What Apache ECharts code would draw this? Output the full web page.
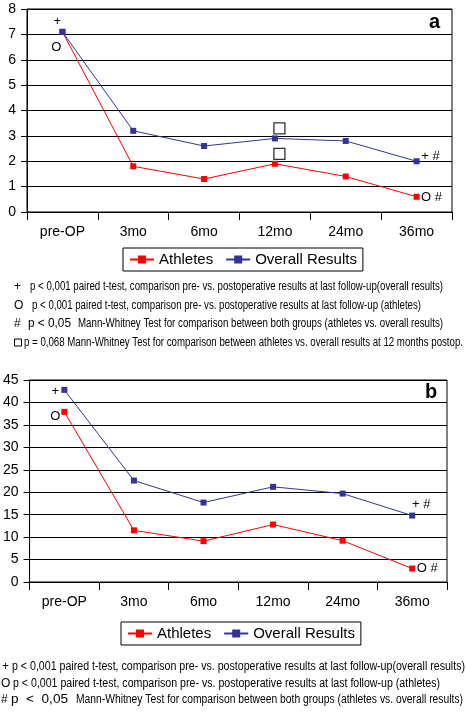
<!DOCTYPE html>
<html><head><meta charset="utf-8">
<script src="https://cdn.jsdelivr.net/npm/echarts@6/dist/echarts.min.js"></script>
<style>html,body{margin:0;padding:0;background:#fff}#c{width:466px;height:714px}</style>
</head><body><div id="c"></div>
<script>
var categories = ['pre-OP','3mo','6mo','12mo','24mo','36mo'];
var athletesA = [7.1, 1.8, 1.3, 1.9, 1.4, 0.6];
var overallA  = [7.1, 3.2, 2.6, 2.9, 2.8, 2.0];
var athletesB = [37.9, 11.5, 9.1, 12.8, 9.2, 3.0];
var overallB  = [42.8, 22.6, 17.7, 21.2, 19.7, 14.8];
var yTicksA = {min:0, max:8, interval:1};
var yTicksB = {min:0, max:45, interval:5};
var noteOverall = 'p < 0,001 paired t-test, comparison pre- vs. postoperative results at last follow-up(overall results)';
var noteAthletes = 'p < 0,001 paired t-test, comparison pre- vs. postoperative results at last follow-up (athletes)';
var noteSig = 'p < 0,05';
var noteSigB = 'p  <  0,05';
var noteMW = 'Mann-Whitney Test for comparison between both groups (athletes vs. overall results)';
var noteSquare = 'p = 0,068 Mann-Whitney Test for comparison between athletes vs. overall results at 12 months postop.';

var RED = '#ff0000', BLUE = '#333399';
var FONT = 'Liberation Sans, Arial, sans-serif';

var mctx = document.createElement('canvas').getContext('2d');
function measure(t, font){ mctx.font = font; return mctx.measureText(t).width; }

var graphics = [];
function fit(t, x0, x1, yc, size){
  var font = size + 'px ' + FONT;
  var w = measure(t, font);
  var s = (x1 - x0) / w;
  graphics.push({type:'text', x:x0, y:yc, scaleX:s, style:{text:t, font:font, fill:'#000', textVerticalAlign:'middle'}});
}
function sym(t, x, yc, size){
  graphics.push({type:'text', x:x, y:yc, style:{text:t, font:size+'px '+FONT, fill:'#000', textVerticalAlign:'middle'}});
}

// Footnotes chart a
sym('+', 14, 287, 12); fit(noteOverall, 30, 443, 287, 12.5);
sym('O', 14, 306, 12); fit(noteAthletes, 32, 421, 306, 12.5);
sym('#', 14, 324, 12); fit(noteSig, 28, 71, 324, 12); fit(noteMW, 78, 443, 324, 12.5);
graphics.push({type:'rect', shape:{x:14.5, y:339, width:7, height:7}, style:{fill:'none', stroke:'#000', lineWidth:1}});
fit(noteSquare, 24, 463, 342.5, 12.5);
// Footnotes chart b
sym('+', 2, 667, 12); fit(noteOverall, 12, 465, 667, 12);
sym('O', 1, 684, 12); fit(noteAthletes, 13, 440, 684, 12);
sym('#', 1, 700, 12); fit(noteSigB, 11, 68, 700, 12); fit(noteMW, 76, 463, 700, 12);

graphics.push({type:'text', left:429, top:12, style:{text:'a', font:'bold 20px '+FONT, fill:'#000'}});
graphics.push({type:'text', left:425, top:382, style:{text:'b', font:'bold 20px '+FONT, fill:'#000'}});

function txt(label, off, cat, val){
  return {coord:[cat,val], symbol:'rect', symbolSize:1, itemStyle:{color:'rgba(0,0,0,0)'},
    label:{show:true, formatter:label, offset:off, color:'#000', fontSize:13, fontFamily:FONT, position:'inside'}};
}
function sq(off, cat, val){
  return {coord:[cat,val], symbol:'rect', symbolSize:11, symbolOffset:off,
    itemStyle:{color:'rgba(0,0,0,0)', borderColor:'#333', borderWidth:1.3}, label:{show:false}};
}
function xAxis(idx){
  return {type:'category', gridIndex:idx, data:categories, boundaryGap:true,
    axisLine:{lineStyle:{color:'#000', width:1}},
    axisTick:{show:true, length:8, lineStyle:{color:'#000'}},
    axisLabel:{color:'#000', fontSize:14, fontFamily:FONT, margin:13}};
}
function yAxis(idx, t){
  return {type:'value', gridIndex:idx, min:t.min, max:t.max, interval:t.interval,
    axisLine:{show:true, lineStyle:{color:'#000', width:1}},
    axisTick:{show:true, length:6, lineStyle:{color:'#000'}},
    splitLine:{show:true, lineStyle:{color:'#000', width:1}},
    axisLabel:{color:'#000', fontSize:14, fontFamily:FONT, margin:11}};
}
function line(name, data, idx, color, mp){
  return {name:name, type:'line', xAxisIndex:idx, yAxisIndex:idx, data:data,
    symbol:'rect', symbolSize:6, showSymbol:true,
    lineStyle:{color:color, width:1}, itemStyle:{color:color},
    animation:false, z:5, markPoint:{animation:false, data:mp}};
}

var chart = echarts.init(document.getElementById('c'), null, {renderer:'canvas'});
chart.setOption({
  animation:false,
  backgroundColor:'#fff',
  grid:[
    {left:27, top:9, width:425, height:203, show:true, borderColor:'#000', borderWidth:1, backgroundColor:'#fff'},
    {left:29, top:380, width:418, height:202, show:true, borderColor:'#000', borderWidth:1, backgroundColor:'#fff'}
  ],
  xAxis:[xAxis(0), xAxis(1)],
  yAxis:[yAxis(0, yTicksA), yAxis(1, yTicksB)],
  legend:[
    {left:123, top:248, orient:'horizontal', itemWidth:24, itemHeight:10, itemGap:12,
     padding:[4,6,4,6], borderColor:'#000', borderWidth:1,
     textStyle:{fontSize:15, fontFamily:FONT, color:'#000'}, data:['Athletes','Overall Results']},
    {left:121, top:622, orient:'horizontal', itemWidth:24, itemHeight:10, itemGap:12,
     padding:[4,6,4,6], borderColor:'#000', borderWidth:1,
     textStyle:{fontSize:15, fontFamily:FONT, color:'#000'}, data:['Athletes','Overall Results']}
  ],
  series:[
    line('Athletes', athletesA, 0, RED, [txt('O',[-6,16],'pre-OP',athletesA[0]), sq([4.5,-10],'12mo',athletesA[3]), txt('O #',[15,1],'36mo',athletesA[5])]),
    line('Overall Results', overallA, 0, BLUE, [txt('+',[-5,-10],'pre-OP',overallA[0]), sq([4.5,-10],'12mo',overallA[3]), txt('+ #',[14,-5],'36mo',overallA[5])]),
    line('Athletes', athletesB, 1, RED, [txt('O',[-9,5],'pre-OP',athletesB[0]), txt('O #',[15,0],'36mo',athletesB[5])]),
    line('Overall Results', overallB, 1, BLUE, [txt('+',[-9,2],'pre-OP',overallB[0]), txt('+ #',[9,-11],'36mo',overallB[5])])
  ],
  graphic:graphics
});
</script></body></html>
